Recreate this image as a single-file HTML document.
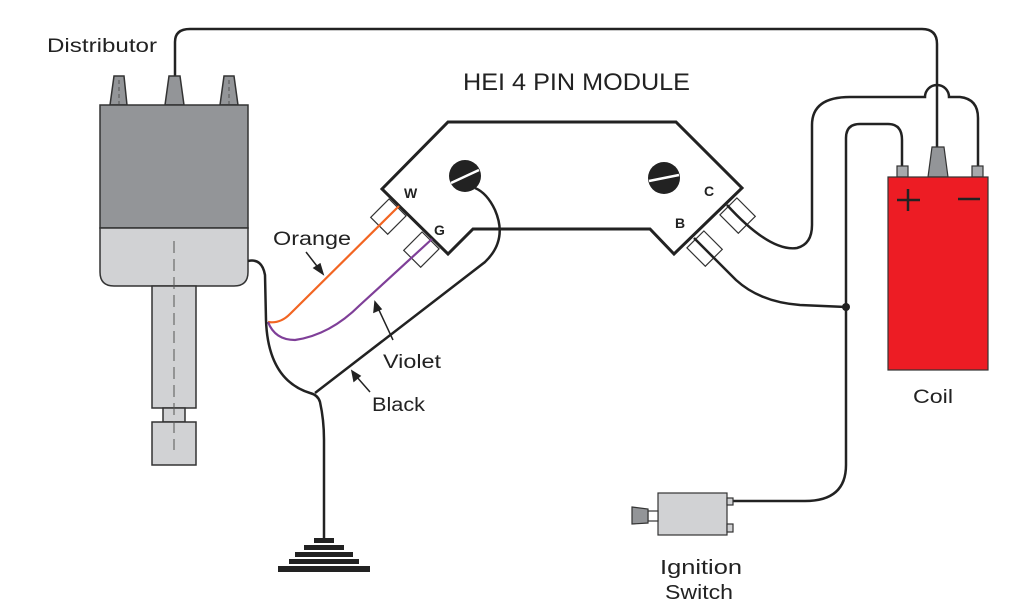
<!DOCTYPE html>
<html><head><meta charset="utf-8"><style>html,body{margin:0;padding:0;background:#fff}svg{display:block}</style></head>
<body>
<svg width="1024" height="600" viewBox="0 0 1024 600" xmlns="http://www.w3.org/2000/svg" font-family="Liberation Sans, sans-serif">
<rect width="1024" height="600" fill="#fff"/>
<path d="M175,78 L175,42 Q175,29 190,29 L922,29 Q937,29 937,44 L937,150" fill="none" stroke="#222" stroke-width="2.5"/>
<g stroke="#333" stroke-width="1.5">
<path d="M110,105 L114,76 L124,76 L127,105 Z" fill="#939598"/>
<path d="M165,105 L169,76 L180,76 L184,105 Z" fill="#939598"/>
<path d="M220,105 L224,76 L234,76 L238,105 Z" fill="#939598"/>
<rect x="100" y="105" width="148" height="123" fill="#939598"/>
<path d="M100,228 L248,228 L248,272 Q248,286 234,286 L114,286 Q100,286 100,272 Z" fill="#d1d2d4"/>
<rect x="152" y="286" width="44" height="122" fill="#d1d2d4"/>
<rect x="163" y="408" width="22" height="14" fill="#d1d2d4"/>
<rect x="152" y="422" width="44" height="43" fill="#d1d2d4"/>
</g>
<line x1="174" y1="241" x2="174" y2="450" stroke="#555" stroke-width="1" stroke-dasharray="12,6"/>
<g stroke="#555" stroke-width="1" stroke-dasharray="4,3"><line x1="119" y1="80" x2="119" y2="104"/><line x1="229" y1="80" x2="229" y2="104"/></g>
<path d="M448,122 L676,122 L742,188 L674,254 L650,229 L473,229 L448,254 L382,189 Z" fill="#fff" stroke="#222" stroke-width="3" stroke-linejoin="miter"/>
<g fill="#fff" stroke="#333" stroke-width="1.2">
<g transform="translate(399,206) rotate(45)"><rect x="-12" y="2" width="24" height="26"/></g>
<g transform="translate(432,239) rotate(45)"><rect x="-12" y="2" width="24" height="26"/></g>
<g transform="translate(727,205) rotate(-45)"><rect x="-12" y="2" width="24" height="26"/></g>
<g transform="translate(694,238) rotate(-45)"><rect x="-12" y="2" width="24" height="26"/></g>
</g>
<circle cx="465" cy="176" r="16" fill="#222"/>
<line x1="451" y1="183" x2="479" y2="170" stroke="#fff" stroke-width="2.5"/>
<circle cx="664" cy="178" r="16" fill="#222"/>
<line x1="649" y1="181" x2="679" y2="175" stroke="#fff" stroke-width="2.5"/>
<g font-weight="bold" font-size="14" fill="#222"><text x="404" y="198">W</text><text x="434" y="235">G</text><text x="675" y="228">B</text><text x="704" y="196">C</text></g>
<path d="M399,206 L290,314 Q280,324 268,322" fill="none" stroke="#f26522" stroke-width="2.2"/>
<path d="M432,239 L360,305 Q330,335 295,340 Q275,340 268,322" fill="none" stroke="#7f3f98" stroke-width="2.2"/>
<path d="M248,261 Q262,258 265,275 L266,320 Q268,380 310,393 Q318,395 320,402 Q324,420 324,440 L324,540" fill="none" stroke="#222" stroke-width="2.5"/>
<path d="M315,393 L485,262 Q508,240 495,210 Q487,193 475,188" fill="none" stroke="#222" stroke-width="2.5"/>
<g fill="#222"><rect x="314" y="538" width="20" height="5"/><rect x="304" y="545" width="40" height="5"/><rect x="295" y="552" width="58" height="5"/><rect x="289" y="559" width="70" height="5"/><rect x="278" y="566" width="92" height="6"/></g>
<path d="M694,238 L736,280 Q760,302 800,305 L846,307" fill="none" stroke="#222" stroke-width="2.5"/>
<path d="M727,205 Q770,252 797,248 Q812,244 812,225 L812,125 Q812,97 850,97 L925,97 A12,12 0 0 1 949,97 L960,97 Q978,99 978,118 L978,168" fill="none" stroke="#222" stroke-width="2.5"/>
<path d="M733,501 L805,501 Q846,501 846,465 L846,138 Q846,124 860,124 L888,124 Q902,124 902,140 L902,168" fill="none" stroke="#222" stroke-width="2.5"/>
<circle cx="846" cy="307" r="4" fill="#222"/>
<g stroke="#333" stroke-width="1.2">
<rect x="897" y="166" width="11" height="11" fill="#a7a9ac"/>
<rect x="972" y="166" width="11" height="11" fill="#a7a9ac"/>
<path d="M928,177 L932,147 L944,147 L948,177 Z" fill="#939598"/>
<rect x="888" y="177" width="100" height="193" fill="#ed1c24"/>
</g>
<g stroke="#222" stroke-width="2.5"><line x1="897" y1="200" x2="920" y2="200"/><line x1="908" y1="189" x2="908" y2="211"/><line x1="958" y1="199" x2="980" y2="199"/></g>
<g stroke="#333" stroke-width="1.2">
<rect x="658" y="493" width="69" height="42" fill="#d1d2d4"/>
<rect x="648" y="511" width="10" height="10" fill="#fff"/>
<path d="M632,507 L648,509 L648,523 L632,524 Z" fill="#939598"/>
<rect x="727" y="498" width="6" height="7" fill="#d1d2d4"/>
<rect x="727" y="524" width="6" height="8" fill="#d1d2d4"/>
</g>
<g fill="#222" font-size="19">
<text x="47" y="52" textLength="110" lengthAdjust="spacingAndGlyphs">Distributor</text>
<text x="463" y="90" font-size="24" textLength="227" lengthAdjust="spacingAndGlyphs">HEI 4 PIN MODULE</text>
<text x="273" y="245" textLength="78" lengthAdjust="spacingAndGlyphs">Orange</text>
<text x="383" y="368" textLength="58" lengthAdjust="spacingAndGlyphs">Violet</text>
<text x="372" y="411" textLength="53" lengthAdjust="spacingAndGlyphs">Black</text>
<text x="913" y="403" textLength="40" lengthAdjust="spacingAndGlyphs">Coil</text>
<text x="660" y="574" font-size="20" textLength="82" lengthAdjust="spacingAndGlyphs">Ignition</text>
<text x="665" y="599" font-size="20" textLength="68" lengthAdjust="spacingAndGlyphs">Switch</text>
</g>
<g stroke="#222" stroke-width="1.5" fill="#222">
<line x1="306" y1="252" x2="320" y2="270"/><path d="M323,274 L314,268 L320,264 Z"/>
<line x1="393" y1="340" x2="378" y2="308"/><path d="M375,302 L374,312 L381,309 Z"/>
<line x1="370" y1="392" x2="356" y2="376"/><path d="M352,371 L354,381 L360,376 Z"/>
</g>
</svg>
</body></html>
